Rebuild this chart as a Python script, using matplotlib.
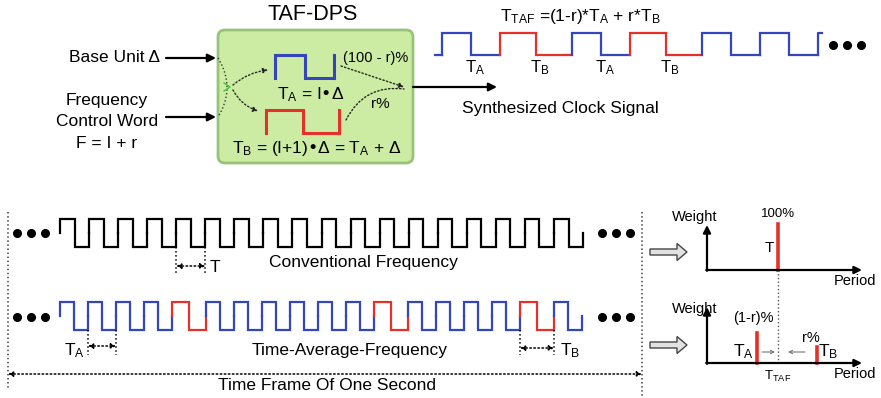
import matplotlib
matplotlib.use('Agg')
import matplotlib.pyplot as plt
from matplotlib.patches import FancyBboxPatch, FancyArrow
import numpy as np

plt.rcParams['font.family'] = ['Liberation Sans', 'DejaVu Sans']
plt.rcParams['mathtext.default'] = 'regular'

BLUE = '#3446bd'
RED = '#e6302a'

# synthesized clock at top right: which period type, and its width in px
top_seq = ['A', 'B', 'A', 'B', 'A', 'A']
top_width = {'A': 58, 'B': 72}
top_labels = ['T$_A$', 'T$_B$', 'T$_A$', 'T$_B$']

# conventional clock: equal periods
conv_seq = ['C'] * 18
conv_width = {'C': 29.06}

# time-average-frequency clock: mostly T_A, occasionally T_B
taf_seq = ['A'] * 4 + ['B'] + ['A'] * 6 + ['B'] + ['A'] * 4 + ['B'] + ['A']
taf_width = {'A': 28, 'B': 34}

# weight of each period in the histograms (r = share of T_B)
r = 0.35
conv_weight = 1.0

fig = plt.figure(figsize=(8.81, 3.98), dpi=100)
ax = fig.add_axes([0, 0, 1, 1])
ax.set_xlim(0, 881)
ax.set_ylim(398, 0)
ax.axis('off')


def clock(x0, seq, widths, colors, hi, lo, start, lw=1.6):
    # draws one square wave, period by period, returns the rising edges
    x = x0
    edges = []
    for p in seq:
        w = widths[p]
        edges.append(x)
        ax.plot([x, x, x + w / 2, x + w / 2, x + w, x + w],
                [start, hi, hi, lo, lo, start],
                color=colors[p], lw=lw, solid_joinstyle='miter')
        x += w
    edges.append(x)
    return edges


def dots(x, y):
    ax.plot([x, x + 14, x + 28], [y] * 3, 'o', color='black', ms=5.5)


def arrow(p0, p1, **kw):
    props = dict(arrowstyle='-|>', color='black', lw=1.6, mutation_scale=12,
                 shrinkA=0, shrinkB=0)
    props.update(kw)
    ax.annotate('', xy=p1, xytext=p0, arrowprops=props)


def span(x1, x2, ytop, ybot, yarr):
    ax.plot([x1, x1], [ytop, ybot], ls=':', color='black', lw=1.1)
    ax.plot([x2, x2], [ytop, ybot], ls=':', color='black', lw=1.1)
    arrow((x1, yarr), (x2, yarr), arrowstyle='<|-|>', lw=1.1, ls=':',
          mutation_scale=7)


# ---------------- top: TAF-DPS block ----------------
ax.text(313, 15, 'TAF-DPS', ha='center', va='center', fontsize=15.5)
box = FancyBboxPatch((218, 30), 195, 133, boxstyle='round,pad=0,rounding_size=7',
                     fc='#cdeca3', ec='#98c47a', lw=2)
ax.add_patch(box)

ax.text(160, 58, 'Base Unit Δ', ha='right', va='center', fontsize=12.5)
ax.text(107, 100, 'Frequency', ha='center', va='center', fontsize=12.5)
ax.text(107, 122, 'Control Word', ha='center', va='center', fontsize=12.5)
ax.text(107, 143, 'F = I + r', ha='center', va='center', fontsize=12.5)
arrow((166, 58), (216, 58))
arrow((166, 117), (216, 117))

# little square waves inside the block (one period plus the next rising edge)
e = clock(275, ['A'], {'A': 59}, {'A': BLUE}, 55, 78, 78, lw=2.2)
ax.plot([e[-1], e[-1]], [78, 55], color=BLUE, lw=2.2)
e = clock(266, ['B'], {'B': 73}, {'B': RED}, 110, 133, 133, lw=2.2)
ax.plot([e[-1], e[-1]], [133, 110], color=RED, lw=2.2)
ax.text(311, 95, 'T$_A$ = I•Δ', ha='center', va='center', fontsize=12.5)
ax.text(317, 148, 'T$_B$ = (I+1)•Δ = T$_A$ + Δ', ha='center', va='center', fontsize=12.5)
ax.text(376, 58, '(100 - r)%', ha='center', va='center', fontsize=10.5)
ax.text(380, 104, 'r%', ha='center', va='center', fontsize=11)

# dotted routing inside the block
yy = np.linspace(58, 117, 30)
ax.plot(218 + 9 * (1 - ((yy - 87.5) / 29.5) ** 2), yy, ls=':', color='#333', lw=1)
ax.plot([224, 230, 224], [83, 87, 91], color='#4cc23a', lw=1)
arrow((233, 85), (268, 70), arrowstyle='-|>', lw=1, ls=':', mutation_scale=7,
      connectionstyle='arc3,rad=-0.15', color='#222')
arrow((233, 90), (258, 111), arrowstyle='-|>', lw=1, ls=':', mutation_scale=7,
      connectionstyle='arc3,rad=0.2', color='#222')
arrow((341, 66), (404, 87), arrowstyle='-|>', lw=1, ls=':', mutation_scale=7,
      color='#222')
arrow((346, 120), (404, 89), arrowstyle='-', lw=1, ls=':',
      connectionstyle='arc3,rad=-0.35', color='#222')

# output
arrow((413, 87), (497, 87))
ax.text(560, 108, 'Synthesized Clock Signal', ha='center', va='center', fontsize=12.5)
ax.text(580, 17, 'T$_{TAF}$ =(1-r)*T$_A$ + r*T$_B$', ha='center', va='center',
        fontsize=12.5)

ax.plot([435, 442], [55, 55], color=BLUE, lw=1.6)
top_edges = clock(442, top_seq, top_width, {'A': BLUE, 'B': RED}, 33, 55, 55)
ax.plot([top_edges[-1], top_edges[-1], top_edges[-1] + 4], [55, 33, 33],
        color=BLUE, lw=1.6)
for i, lab in enumerate(top_labels):
    xf = top_edges[i] + top_width[top_seq[i]] / 2
    ax.text(xf + 4, 68, lab, ha='center', va='center', fontsize=12)
dots(833, 45)

# ---------------- bottom: conventional vs TAF ----------------
ax.plot([8, 8], [212, 390], ls=':', color='#444', lw=1.1)
ax.plot([642, 642], [212, 398], ls=':', color='#444', lw=1.1)
arrow((8, 374), (642, 374), arrowstyle='<|-|>', lw=1.1, ls=':', mutation_scale=7)
ax.text(327, 385, 'Time Frame Of One Second', ha='center', va='center', fontsize=12.5)

dots(17, 233)
dots(602, 233)
conv_edges = clock(60, conv_seq, conv_width, {'C': 'black'}, 219, 247, 233)
span(conv_edges[4], conv_edges[5], 247, 275, 266)
ax.text(conv_edges[5] + 4, 267, 'T', ha='left', va='center', fontsize=12.5)
ax.text(363, 263, 'Conventional Frequency', ha='center', va='center', fontsize=12.5)

dots(17, 317)
dots(602, 317)
taf_edges = clock(60, taf_seq, taf_width, {'A': BLUE, 'B': RED}, 302, 330, 316)
span(taf_edges[1], taf_edges[2], 330, 355, 346)
ax.text(taf_edges[1] - 3, 351, 'T$_A$', ha='right', va='center', fontsize=12.5)
b_last = len(taf_seq) - 1 - taf_seq[::-1].index('B')
span(taf_edges[b_last], taf_edges[b_last + 1], 330, 355, 348)
ax.text(taf_edges[b_last + 1] + 6, 351, 'T$_B$', ha='left', va='center', fontsize=12.5)
ax.text(350, 350, 'Time-Average-Frequency', ha='center', va='center', fontsize=12.5)

# ---------------- right: period histograms ----------------
for y in (252, 345):
    ax.add_patch(FancyArrow(650, y, 37, 0, width=6, head_width=17, head_length=10,
                            length_includes_head=True, fc='#e2e2e2', ec='#444', lw=1))

bar_h = 46
t_a_x, t_b_x = 757, 817
t_taf_x = (1 - r) * t_a_x + r * t_b_x

for y0, ytop, ylab in ((270, 225, 217), (363, 307, 309)):
    arrow((707, y0 + 0.8), (707, ytop), lw=1.6, mutation_scale=11)
    arrow((706.2, y0), (862, y0), lw=1.6, mutation_scale=11)
    ax.text(695, ylab, 'Weight', ha='center', va='center', fontsize=10.5)
    ax.text(855, y0 + 11, 'Period', ha='center', va='center', fontsize=10.5)

ax.plot([t_taf_x, t_taf_x], [270, 363], ls=':', color='#555', lw=1)
ax.plot([t_taf_x, t_taf_x], [270, 270 - bar_h * conv_weight], color=RED, lw=2.6)
ax.text(t_taf_x, 214, '100%', ha='center', va='center', fontsize=9.5)
ax.text(769, 248, 'T', ha='center', va='center', fontsize=11)

ax.plot([t_a_x, t_a_x], [363, 363 - bar_h * (1 - r)], color=RED, lw=2.6)
ax.plot([t_b_x, t_b_x], [363, 363 - bar_h * r], color=RED, lw=2.6)
ax.text(t_a_x - 4, 318, '(1-r)%', ha='center', va='center', fontsize=10.5)
ax.text(t_b_x - 6, 338, 'r%', ha='center', va='center', fontsize=10.5)
ax.text(t_a_x - 14, 352, 'T$_A$', ha='center', va='center', fontsize=12.5)
ax.text(t_b_x + 11, 352, 'T$_B$', ha='center', va='center', fontsize=12.5)
ax.text(t_taf_x, 376, 'T$_{TAF}$', ha='center', va='center', fontsize=9.5)
arrow((762, 352), (775, 352), arrowstyle='->', lw=0.8, color='#777', mutation_scale=6)
arrow((805, 352), (788, 352), arrowstyle='->', lw=0.8, color='#777', mutation_scale=6)

fig.savefig('out.png', dpi=100)
